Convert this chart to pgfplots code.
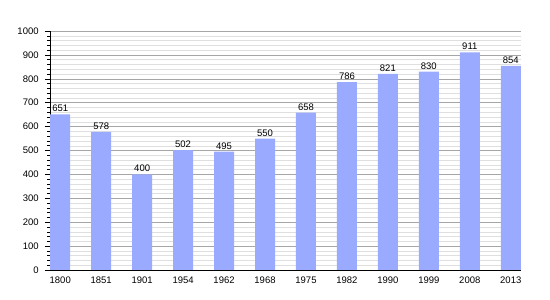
\documentclass[border=0pt]{standalone}
\usepackage{pgfplots}
\pgfplotsset{compat=1.18}
\usepackage{fontspec}
\setmainfont{Liberation Sans}
\definecolor{barblue}{HTML}{99AAFF}
\begin{document}
\fontsize{9.5}{10}\selectfont
\begin{tikzpicture}[x=1pt,y=1pt]
\useasboundingbox (0,0) rectangle (550,300);
\begin{axis}[
  at={(50pt,30pt)}, anchor=south west,
  scale only axis, width=471pt, height=239pt,
  xmin=-0.25, xmax=11.25, ymin=0, ymax=1000,
  axis x line*=bottom, axis y line*=left,
  axis line style={line width=0.8pt},
  xtick=data,
  xticklabels={1800,1851,1901,1954,1962,1968,1975,1982,1990,1999,2008,2013},
  x tick style={draw=none},
  ytick={0,100,...,1000},
  minor y tick num=4,
  y tick style={black, line width=0.5pt},
  tick align=outside,
  major tick length=5pt, minor tick length=3pt,
  ymajorgrids, yminorgrids,
  major grid style={gray!70, line width=0.5pt},
  minor grid style={gray!25, line width=0.4pt},
  /pgf/number format/assume math mode=true,
  ticklabel style={font=\fontsize{9.5}{10}\selectfont},
  yticklabel style={/pgf/number format/1000 sep={}, xshift=-3pt},
  xticklabel style={yshift=1pt},
  nodes near coords,
  every node near coord/.append style={font=\fontsize{9.5}{10}\selectfont, yshift=-1pt},
]
\addplot[ybar, bar width=20pt, fill=barblue, draw=none] coordinates {
(0,651) (1,578) (2,400) (3,502) (4,495) (5,550) (6,658) (7,786) (8,821) (9,830) (10,911) (11,854)};
\end{axis}
\end{tikzpicture}
\end{document}
